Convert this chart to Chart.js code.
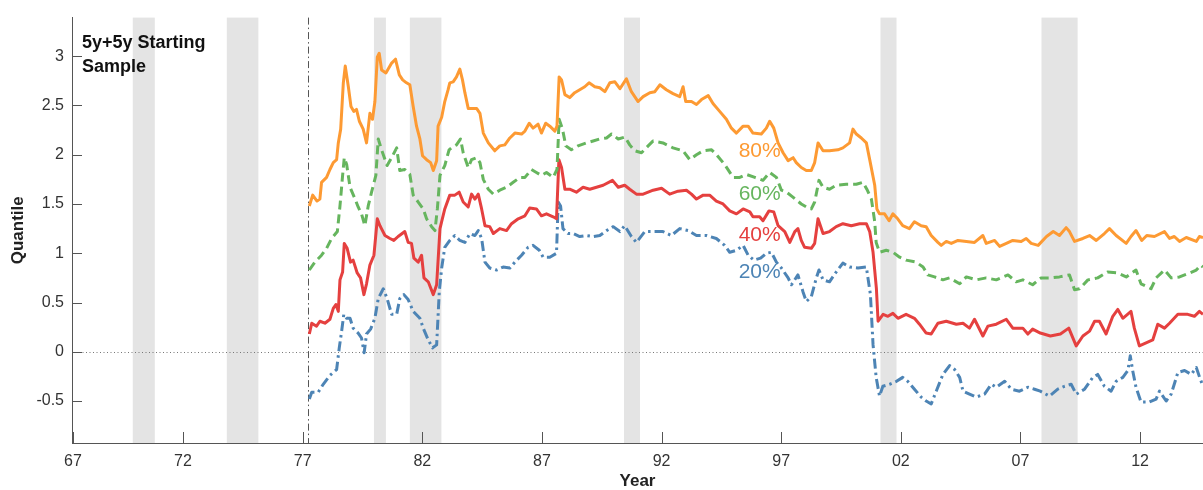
<!DOCTYPE html>
<html>
<head>
<meta charset="utf-8">
<script src="https://cdn.jsdelivr.net/npm/chart.js@4.4.1/dist/chart.umd.min.js"></script>
<style>
  html, body { margin: 0; padding: 0; background: #fff; }
  #wrap { width: 1203px; height: 490px; }
</style>
</head>
<body>
<div id="wrap"><canvas id="c" width="1203" height="490"></canvas></div>
<script>
// ---- data -----------------------------------------------------------------
const q80Years = [1977.28,1977.42,1977.60,1977.72,1977.79,1978.00,1978.14,1978.28,1978.42,1978.49,1978.59,1978.70,1978.78,1978.91,1979.02,1979.14,1979.25,1979.37,1979.53,1979.67,1979.81,1979.92,1980.02,1980.12,1980.20,1980.30,1980.48,1980.72,1980.88,1981.04,1981.18,1981.34,1981.48,1981.62,1981.76,1981.90,1982.01,1982.18,1982.35,1982.46,1982.60,1982.66,1982.81,1982.94,1983.08,1983.15,1983.29,1983.43,1983.57,1983.68,1983.78,1983.92,1984.27,1984.41,1984.55,1984.76,1985.03,1985.24,1985.45,1985.66,1985.87,1986.15,1986.29,1986.47,1986.63,1986.84,1986.98,1987.16,1987.33,1987.54,1987.63,1987.72,1987.82,1987.96,1988.16,1988.37,1988.58,1988.79,1988.97,1989.21,1989.42,1989.63,1989.84,1990.05,1990.26,1990.53,1990.74,1991.02,1991.23,1991.51,1991.72,1991.93,1992.20,1992.48,1992.76,1992.90,1993.01,1993.25,1993.46,1993.67,1993.95,1994.15,1994.43,1994.71,1994.92,1995.13,1995.41,1995.62,1995.82,1996.17,1996.38,1996.52,1996.69,1996.87,1997.08,1997.29,1997.50,1997.63,1997.84,1998.05,1998.26,1998.40,1998.54,1998.75,1999.02,1999.37,1999.58,1999.86,2000.00,2000.14,2000.35,2000.56,2000.70,2000.91,2001.00,2001.11,2001.32,2001.51,2001.67,2001.87,2002.08,2002.36,2002.57,2002.85,2003.06,2003.27,2003.55,2003.69,2003.90,2004.11,2004.39,2004.74,2005.08,2005.43,2005.57,2005.92,2006.13,2006.41,2006.68,2007.03,2007.24,2007.45,2007.74,2008.09,2008.37,2008.63,2008.91,2009.05,2009.26,2009.61,2009.89,2010.17,2010.51,2010.72,2011.00,2011.42,2011.62,2011.83,2012.07,2012.28,2012.60,2013.02,2013.23,2013.43,2013.65,2013.93,2014.35,2014.48,2014.63];
const q80Values = [1.48,1.59,1.53,1.55,1.72,1.77,1.85,1.92,1.95,2.12,2.26,2.73,2.90,2.69,2.49,2.44,2.46,2.34,2.26,2.12,2.42,2.36,2.54,2.99,3.03,2.86,2.83,2.93,2.97,2.81,2.76,2.73,2.71,2.49,2.29,2.16,1.99,1.95,1.92,1.84,1.94,2.29,2.38,2.54,2.66,2.73,2.74,2.79,2.87,2.76,2.63,2.47,2.47,2.42,2.22,2.12,2.04,2.09,2.10,2.17,2.22,2.21,2.24,2.32,2.27,2.31,2.22,2.32,2.29,2.24,2.29,2.79,2.76,2.61,2.58,2.63,2.66,2.69,2.73,2.69,2.68,2.64,2.73,2.74,2.67,2.77,2.64,2.54,2.59,2.63,2.64,2.71,2.66,2.62,2.59,2.69,2.54,2.54,2.51,2.56,2.60,2.52,2.44,2.36,2.27,2.22,2.29,2.29,2.22,2.21,2.27,2.34,2.27,2.12,2.02,1.94,1.97,1.92,1.87,1.84,1.84,1.92,2.12,2.04,2.04,2.05,2.07,2.12,2.26,2.21,2.17,2.12,1.95,1.69,1.45,1.40,1.40,1.33,1.40,1.35,1.28,1.25,1.32,1.28,1.27,1.18,1.11,1.08,1.12,1.10,1.13,1.12,1.11,1.18,1.10,1.13,1.07,1.10,1.13,1.12,1.15,1.10,1.08,1.17,1.22,1.18,1.26,1.22,1.12,1.15,1.18,1.13,1.20,1.25,1.18,1.10,1.17,1.23,1.13,1.18,1.17,1.22,1.15,1.17,1.12,1.16,1.12,1.17,1.16];

const q60Years = [1977.28,1977.51,1977.79,1978.00,1978.21,1978.45,1978.56,1978.67,1978.74,1978.84,1978.98,1979.19,1979.32,1979.46,1979.60,1979.74,1979.88,1980.06,1980.16,1980.30,1980.53,1980.72,1980.93,1981.06,1981.27,1981.48,1981.62,1981.83,1982.04,1982.18,1982.39,1982.53,1982.63,1982.74,1982.94,1983.12,1983.22,1983.43,1983.60,1983.71,1983.92,1984.06,1984.27,1984.41,1984.55,1984.76,1984.97,1985.24,1985.52,1985.80,1986.08,1986.29,1986.56,1986.77,1986.98,1987.19,1987.47,1987.63,1987.72,1987.86,1988.00,1988.23,1988.51,1988.86,1989.14,1989.42,1989.70,1989.91,1990.19,1990.47,1990.67,1990.88,1991.16,1991.44,1991.65,1992.06,1992.48,1992.90,1993.18,1993.46,1993.74,1994.09,1994.30,1994.64,1994.99,1995.27,1995.55,1995.90,1996.24,1996.52,1996.80,1997.01,1997.22,1997.49,1997.84,1998.05,1998.26,1998.40,1998.58,1998.75,1999.02,1999.30,1999.72,2000.14,2000.42,2000.58,2000.77,2000.91,2000.97,2001.11,2001.39,2001.67,2001.95,2002.22,2002.64,2002.93,2003.13,2003.41,2003.76,2004.04,2004.46,2004.74,2005.15,2005.57,2005.99,2006.48,2006.82,2007.10,2007.51,2007.86,2008.28,2008.63,2009.05,2009.26,2009.47,2009.82,2010.23,2010.64,2011.06,2011.42,2011.83,2012.04,2012.46,2012.67,2013.02,2013.30,2013.65,2014.07,2014.35,2014.54,2014.63];
const q60Values = [0.83,0.91,0.98,1.05,1.15,1.22,1.48,1.79,1.97,1.90,1.67,1.55,1.47,1.40,1.28,1.48,1.62,1.79,2.16,2.05,1.89,1.97,2.07,1.84,1.85,1.80,1.59,1.52,1.45,1.35,1.27,1.23,1.45,1.79,1.89,2.05,2.07,2.10,2.16,2.02,1.87,1.95,1.97,1.92,1.75,1.65,1.60,1.64,1.67,1.72,1.77,1.77,1.85,1.82,1.79,1.82,1.77,1.85,2.36,2.26,2.09,2.05,2.09,2.12,2.14,2.16,2.17,2.21,2.16,2.18,2.10,2.04,2.02,2.09,2.14,2.12,2.07,2.04,1.95,2.00,2.04,2.05,2.00,1.90,1.77,1.77,1.80,1.77,1.74,1.82,1.77,1.64,1.62,1.57,1.50,1.47,1.45,1.52,1.74,1.67,1.65,1.69,1.70,1.70,1.72,1.65,1.55,1.32,1.11,1.01,1.03,1.01,0.96,0.93,0.91,0.86,0.78,0.76,0.73,0.75,0.69,0.76,0.73,0.75,0.73,0.78,0.71,0.73,0.68,0.75,0.75,0.76,0.78,0.63,0.64,0.73,0.75,0.81,0.80,0.76,0.83,0.69,0.64,0.75,0.83,0.75,0.76,0.80,0.83,0.88,0.86];

const q40Years = [1977.28,1977.38,1977.58,1977.72,1977.93,1978.14,1978.28,1978.39,1978.49,1978.56,1978.67,1978.74,1978.86,1979.00,1979.11,1979.28,1979.42,1979.56,1979.67,1979.81,1979.98,1980.12,1980.23,1980.44,1980.65,1980.81,1980.99,1981.27,1981.41,1981.55,1981.65,1981.83,1981.97,1982.07,1982.25,1982.46,1982.60,1982.74,1982.81,1982.94,1983.15,1983.36,1983.54,1983.71,1983.92,1984.06,1984.20,1984.34,1984.48,1984.62,1984.82,1984.97,1985.24,1985.52,1985.73,1986.01,1986.29,1986.49,1986.77,1986.98,1987.19,1987.47,1987.61,1987.71,1987.82,1987.96,1988.16,1988.44,1988.72,1989.00,1989.28,1989.56,1989.95,1990.19,1990.46,1990.67,1990.95,1991.23,1991.65,1992.00,1992.34,1992.69,1993.04,1993.25,1993.46,1993.74,1994.01,1994.29,1994.57,1994.85,1995.13,1995.41,1995.69,1995.82,1996.10,1996.24,1996.49,1996.69,1996.87,1997.15,1997.36,1997.57,1997.70,1997.84,1997.98,1998.26,1998.40,1998.54,1998.75,1999.02,1999.30,1999.58,1999.93,2000.28,2000.56,2000.70,2000.84,2000.98,2001.05,2001.26,2001.46,2001.67,2001.88,2002.22,2002.57,2002.78,2003.06,2003.27,2003.55,2003.90,2004.32,2004.60,2004.87,2005.08,2005.43,2005.64,2005.99,2006.41,2006.68,2007.10,2007.31,2007.51,2007.83,2008.25,2008.67,2009.02,2009.33,2009.61,2009.89,2010.10,2010.30,2010.58,2010.86,2011.07,2011.28,2011.62,2011.76,2011.97,2012.25,2012.53,2012.74,2013.02,2013.23,2013.58,2013.99,2014.27,2014.48,2014.63];
const q40Values = [0.18,0.29,0.26,0.31,0.29,0.33,0.44,0.48,0.41,0.73,0.81,1.10,1.05,0.91,0.93,0.80,0.75,0.58,0.69,0.88,0.98,1.35,1.28,1.18,1.15,1.13,1.17,1.22,1.11,1.10,0.95,0.91,0.98,0.75,0.71,0.58,0.68,1.25,1.32,1.45,1.59,1.59,1.62,1.52,1.47,1.60,1.55,1.60,1.45,1.28,1.27,1.20,1.25,1.23,1.30,1.35,1.38,1.46,1.45,1.38,1.40,1.37,1.35,1.95,1.87,1.65,1.65,1.62,1.67,1.65,1.67,1.69,1.74,1.67,1.69,1.65,1.60,1.60,1.64,1.66,1.60,1.63,1.64,1.60,1.55,1.59,1.59,1.53,1.50,1.43,1.40,1.45,1.42,1.37,1.37,1.33,1.43,1.42,1.28,1.22,1.11,1.22,1.25,1.13,1.06,1.05,1.10,1.35,1.20,1.22,1.27,1.30,1.28,1.30,1.30,1.22,1.01,0.64,0.31,0.38,0.36,0.39,0.34,0.38,0.34,0.28,0.19,0.18,0.29,0.31,0.28,0.29,0.24,0.33,0.16,0.26,0.28,0.33,0.24,0.24,0.18,0.23,0.19,0.16,0.18,0.24,0.06,0.16,0.21,0.31,0.31,0.18,0.36,0.43,0.34,0.41,0.24,0.06,0.09,0.12,0.28,0.24,0.29,0.38,0.38,0.36,0.41,0.38];

const q20Years = [1977.28,1977.38,1977.65,1977.86,1978.14,1978.42,1978.53,1978.63,1978.72,1978.84,1978.98,1979.11,1979.32,1979.46,1979.57,1979.67,1979.84,1980.02,1980.16,1980.37,1980.53,1980.72,1980.93,1981.06,1981.23,1981.41,1981.62,1981.90,1982.04,1982.25,1982.43,1982.60,1982.71,1982.81,1982.94,1983.15,1983.36,1983.57,1983.78,1983.99,1984.20,1984.34,1984.48,1984.62,1984.82,1985.10,1985.38,1985.66,1985.87,1986.15,1986.42,1986.63,1986.89,1987.05,1987.33,1987.61,1987.68,1987.78,1987.88,1988.09,1988.30,1988.58,1988.86,1989.14,1989.42,1989.70,1989.98,1990.26,1990.46,1990.74,1990.95,1991.30,1991.65,1992.06,1992.41,1992.76,1993.11,1993.46,1993.88,1994.29,1994.64,1994.85,1995.13,1995.41,1995.62,1995.86,1996.14,1996.38,1996.59,1996.80,1997.01,1997.29,1997.43,1997.70,1997.91,1998.05,1998.26,1998.47,1998.58,1998.75,1999.02,1999.30,1999.58,1999.86,2000.21,2000.56,2000.73,2000.84,2000.97,2001.11,2001.25,2001.53,2001.82,2002.08,2002.29,2002.57,2002.85,2003.06,2003.27,2003.48,2003.76,2004.04,2004.25,2004.46,2004.60,2004.87,2005.15,2005.50,2005.78,2005.99,2006.34,2006.62,2006.96,2007.31,2007.59,2007.83,2008.21,2008.56,2008.84,2009.12,2009.33,2009.68,2010.02,2010.23,2010.51,2010.79,2011.00,2011.28,2011.49,2011.59,2011.69,2011.83,2012.04,2012.39,2012.67,2012.81,2013.09,2013.30,2013.58,2013.86,2014.14,2014.35,2014.49,2014.63];
const q20Values = [-0.48,-0.41,-0.41,-0.33,-0.24,-0.18,0.04,0.21,0.38,0.34,0.34,0.24,0.19,0.14,-0.01,0.18,0.23,0.34,0.54,0.64,0.54,0.38,0.38,0.54,0.58,0.53,0.41,0.34,0.24,0.12,0.04,0.07,0.61,0.85,1.06,1.13,1.18,1.13,1.11,1.20,1.18,1.23,1.15,0.91,0.85,0.83,0.86,0.85,0.91,0.98,1.06,1.08,1.03,0.96,0.96,1.00,1.52,1.48,1.25,1.20,1.20,1.17,1.18,1.17,1.18,1.23,1.27,1.22,1.28,1.17,1.11,1.22,1.22,1.22,1.18,1.25,1.23,1.18,1.18,1.15,1.08,1.01,1.03,1.08,0.98,0.93,0.95,1.00,1.01,0.91,0.85,0.75,0.68,0.78,0.61,0.51,0.56,0.75,0.83,0.73,0.71,0.81,0.90,0.86,0.85,0.86,0.58,0.07,-0.26,-0.45,-0.35,-0.33,-0.30,-0.26,-0.30,-0.38,-0.46,-0.50,-0.53,-0.40,-0.23,-0.14,-0.18,-0.26,-0.40,-0.43,-0.46,-0.43,-0.33,-0.36,-0.30,-0.38,-0.40,-0.36,-0.38,-0.40,-0.45,-0.38,-0.35,-0.33,-0.43,-0.38,-0.26,-0.23,-0.35,-0.40,-0.30,-0.26,-0.19,-0.04,-0.19,-0.36,-0.51,-0.51,-0.48,-0.40,-0.50,-0.43,-0.21,-0.19,-0.23,-0.16,-0.26,-0.35];

// recession periods (decimal years)
const recessionStart = [1969.90, 1973.83, 1979.98, 1981.48, 1990.43, 2001.15, 2007.88];
const recessionEnd   = [1970.82, 1975.15, 1980.48, 1982.80, 1991.10, 2001.82, 2009.39];
const sampleStart = 1977.24;

const seriesNames = ['80%', '60%', '40%', '20%'];
const xTickYears  = [1967.40, 1972, 1977, 1982, 1987, 1992, 1997, 2002, 2007, 2012];
const xTickLabels = ['67', '72', '77', '82', '87', '92', '97', '02', '07', '12'];
const yTicks      = [-0.5, 0, 0.5, 1, 1.5, 2, 2.5, 3];

// ---- styling ----------------------------------------------------------------
const FONT = '"Helvetica Neue", "Liberation Sans", Arial, sans-serif';
const colors = ['#FD9A33', '#66B55E', '#E5403F', '#4D84B5'];
const dashes = [[], [9, 5], [], [10, 4, 2.5, 4]];

function points(xs, ys) { return xs.map((x, i) => ({ x, y: ys[i] })); }
const seriesData = [
  points(q80Years, q80Values),
  points(q60Years, q60Values),
  points(q40Years, q40Values),
  points(q20Years, q20Values)
];

// text placed next to each curve, in data units
const labelAt = { x: 1996.10, y: [2.04, 1.60, 1.18, 0.81] };

const decor = {
  id: 'decor',
  beforeDatasetsDraw(chart) {
    const { ctx, chartArea: a, scales: { x, y } } = chart;
    ctx.save();
    ctx.fillStyle = '#e4e4e4';
    recessionStart.forEach((s, i) => {
      const x0 = x.getPixelForValue(s);
      const x1 = x.getPixelForValue(recessionEnd[i]);
      ctx.fillRect(x0, a.top, x1 - x0, a.bottom - a.top);
    });
    ctx.lineWidth = 1;
    ctx.strokeStyle = '#777';
    ctx.setLineDash([1, 2.5]);
    const y0 = Math.round(y.getPixelForValue(0)) + 0.5;
    ctx.beginPath(); ctx.moveTo(a.left, y0); ctx.lineTo(a.right, y0); ctx.stroke();
    ctx.strokeStyle = '#555';
    ctx.setLineDash([7, 3, 1.5, 3]);
    const xs = Math.round(x.getPixelForValue(sampleStart)) + 0.5;
    ctx.beginPath(); ctx.moveTo(xs, a.top); ctx.lineTo(xs, a.bottom); ctx.stroke();
    ctx.restore();
  },
  afterDatasetsDraw(chart) {
    const { ctx, chartArea: a, scales: { x, y } } = chart;
    ctx.save();
    // inward tick marks
    ctx.strokeStyle = '#555';
    ctx.lineWidth = 1;
    ctx.setLineDash([]);
    ctx.beginPath();
    yTicks.forEach(v => {
      const py = Math.round(y.getPixelForValue(v)) + 0.5;
      ctx.moveTo(a.left, py); ctx.lineTo(a.left + 10, py);
    });
    xTickYears.forEach(v => {
      const px = Math.round(x.getPixelForValue(v)) + 0.5;
      ctx.moveTo(px, a.bottom); ctx.lineTo(px, a.bottom - 11);
    });
    ctx.stroke();
    // curve labels
    ctx.font = '21px ' + FONT;
    ctx.textAlign = 'center';
    ctx.textBaseline = 'middle';
    seriesNames.forEach((n, i) => {
      ctx.fillStyle = colors[i];
      ctx.fillText(n, x.getPixelForValue(labelAt.x), y.getPixelForValue(labelAt.y[i]));
    });
    // panel caption
    ctx.fillStyle = '#111';
    ctx.font = 'bold 18px ' + FONT;
    ctx.textAlign = 'left';
    ctx.textBaseline = 'alphabetic';
    ctx.fillText('5y+5y Starting', a.left + 10, a.top + 30);
    ctx.fillText('Sample', a.left + 10, a.top + 54);
    ctx.restore();
  }
};

new Chart(document.getElementById('c'), {
  type: 'line',
  data: {
    datasets: seriesData.map((d, i) => ({
      label: seriesNames[i],
      data: d,
      borderColor: colors[i],
      borderWidth: 3,
      borderDash: dashes[i],
      borderJoinStyle: 'round',
      borderCapStyle: 'butt',
      pointRadius: 0,
      tension: 0,
      fill: false
    }))
  },
  options: {
    responsive: false,
    animation: false,
    layout: { padding: { top: 14, right: 0, left: 0, bottom: 0 } },
    plugins: { legend: { display: false }, tooltip: { enabled: false } },
    scales: {
      x: {
        type: 'linear',
        min: 1967.36,
        max: 2014.63,
        grid: { display: false, drawTicks: false },
        border: { display: true, color: '#555', width: 1 },
        afterBuildTicks: s => { s.ticks = xTickYears.map(v => ({ value: v })); },
        afterFit: s => { s.height = 47; },
        ticks: {
          autoSkip: false,
          maxRotation: 0,
          padding: 9,
          color: '#333',
          font: { family: FONT, size: 16 },
          callback: (v, i) => xTickLabels[i]
        },
        title: {
          display: true,
          text: 'Year',
          color: '#222',
          font: { family: FONT, size: 17, weight: 'bold', lineHeight: 1 },
          padding: { top: 0, bottom: 0 }
        }
      },
      y: {
        type: 'linear',
        min: -0.926,
        max: 3.392,
        grid: { display: false, drawTicks: false },
        border: { display: true, color: '#555', width: 1 },
        afterBuildTicks: s => { s.ticks = yTicks.map(v => ({ value: v })); },
        afterFit: s => { s.width = 72; },
        ticks: {
          padding: 8,
          color: '#333',
          font: { family: FONT, size: 16 },
          callback: v => String(v)
        },
        title: {
          display: true,
          text: 'Quantile',
          color: '#222',
          font: { family: FONT, size: 17, weight: 'bold', lineHeight: 1 },
          padding: { top: 10, bottom: 0 }
        }
      }
    }
  },
  plugins: [decor]
});
</script>
</body>
</html>
